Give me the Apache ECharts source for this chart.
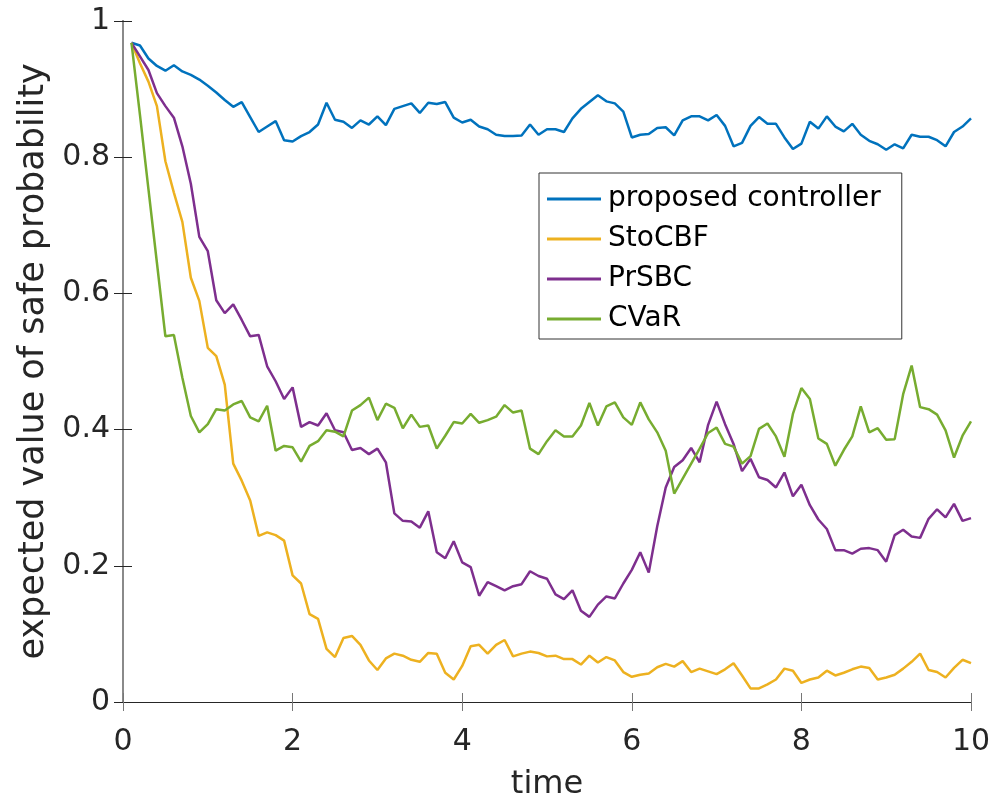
<!DOCTYPE html>
<html>
<head>
<meta charset="utf-8">
<script src="https://cdn.jsdelivr.net/npm/echarts@6/dist/echarts.min.js"></script>
<style>
  html, body { margin: 0; padding: 0; background: #fff; }
  #chart { width: 997px; height: 806px; }
</style>
</head>
<body>
<div id="chart"></div>
<script>
// sample times
const time = [
  0.1, 0.2, 0.3, 0.4, 0.5, 0.6, 0.7, 0.8, 0.9, 1.0,
  1.1, 1.2, 1.3, 1.4, 1.5, 1.6, 1.7, 1.8, 1.9, 2.0,
  2.1, 2.2, 2.3, 2.4, 2.5, 2.6, 2.7, 2.8, 2.9, 3.0,
  3.1, 3.2, 3.3, 3.4, 3.5, 3.6, 3.7, 3.8, 3.9, 4.0,
  4.1, 4.2, 4.3, 4.4, 4.5, 4.6, 4.7, 4.8, 4.9, 5.0,
  5.1, 5.2, 5.3, 5.4, 5.5, 5.6, 5.7, 5.8, 5.9, 6.0,
  6.1, 6.2, 6.3, 6.4, 6.5, 6.6, 6.7, 6.8, 6.9, 7.0,
  7.1, 7.2, 7.3, 7.4, 7.5, 7.6, 7.7, 7.8, 7.9, 8.0,
  8.1, 8.2, 8.3, 8.4, 8.5, 8.6, 8.7, 8.8, 8.9, 9.0,
  9.1, 9.2, 9.3, 9.4, 9.5, 9.6, 9.7, 9.8, 9.9, 10.0
];

const proposed = [
  0.968, 0.964, 0.945, 0.934, 0.927, 0.935, 0.926, 0.921, 0.914, 0.905,
  0.895, 0.884, 0.874, 0.881, 0.859, 0.837, 0.845, 0.853, 0.825, 0.823,
  0.831, 0.837, 0.848, 0.880, 0.855, 0.852, 0.843, 0.854, 0.848, 0.860,
  0.847, 0.871, 0.875, 0.879, 0.865, 0.880, 0.878, 0.881, 0.858, 0.851,
  0.855, 0.845, 0.841, 0.833, 0.831, 0.831, 0.832, 0.848, 0.833, 0.841,
  0.841, 0.837, 0.857, 0.871, 0.881, 0.891, 0.882, 0.879, 0.867, 0.829,
  0.833, 0.834, 0.843, 0.844, 0.832, 0.854, 0.860, 0.860, 0.854, 0.862,
  0.846, 0.816, 0.821, 0.846, 0.859, 0.849, 0.849, 0.829, 0.812, 0.820,
  0.852, 0.842, 0.860, 0.845, 0.838, 0.849, 0.833, 0.824, 0.819, 0.811,
  0.819, 0.813, 0.833, 0.830, 0.830, 0.825, 0.816, 0.837, 0.845, 0.857
];

const stocbf = [
  0.968, 0.938, 0.911, 0.875, 0.794, 0.748, 0.705, 0.623, 0.589, 0.520,
  0.508, 0.466, 0.350, 0.325, 0.296, 0.244, 0.249, 0.245, 0.237, 0.186,
  0.174, 0.129, 0.122, 0.078, 0.066, 0.094, 0.097, 0.084, 0.061, 0.047,
  0.064, 0.071, 0.068, 0.062, 0.059, 0.072, 0.071, 0.043, 0.033, 0.053,
  0.082, 0.084, 0.071, 0.084, 0.091, 0.067, 0.071, 0.074, 0.072, 0.067,
  0.068, 0.063, 0.063, 0.055, 0.068, 0.058, 0.066, 0.061, 0.044, 0.037,
  0.040, 0.042, 0.051, 0.056, 0.052, 0.060, 0.044, 0.049, 0.045, 0.041,
  0.048, 0.057, 0.039, 0.020, 0.020, 0.026, 0.033, 0.049, 0.046, 0.028,
  0.033, 0.036, 0.046, 0.039, 0.043, 0.048, 0.052, 0.050, 0.033, 0.036,
  0.040, 0.049, 0.059, 0.071, 0.047, 0.044, 0.036, 0.050, 0.062, 0.057
];

const prsbc = [
  0.968, 0.948, 0.928, 0.894, 0.875, 0.858, 0.816, 0.761, 0.683, 0.662,
  0.590, 0.571, 0.584, 0.561, 0.537, 0.539, 0.493, 0.471, 0.445, 0.462,
  0.404, 0.411, 0.406, 0.424, 0.399, 0.396, 0.370, 0.373, 0.364, 0.372,
  0.352, 0.277, 0.266, 0.265, 0.256, 0.280, 0.220, 0.211, 0.236, 0.205,
  0.198, 0.156, 0.176, 0.170, 0.164, 0.170, 0.173, 0.192, 0.185, 0.181,
  0.158, 0.151, 0.164, 0.134, 0.125, 0.143, 0.155, 0.152, 0.174, 0.194,
  0.220, 0.190, 0.258, 0.315, 0.345, 0.355, 0.373, 0.352, 0.407, 0.441,
  0.408, 0.379, 0.339, 0.357, 0.330, 0.326, 0.315, 0.337, 0.302, 0.319,
  0.289, 0.268, 0.254, 0.223, 0.223, 0.218, 0.225, 0.226, 0.223, 0.206,
  0.245, 0.253, 0.243, 0.241, 0.269, 0.283, 0.271, 0.291, 0.266, 0.270
];

const cvar = [
  0.968, 0.862, 0.753, 0.645, 0.537, 0.539, 0.476, 0.420, 0.396, 0.408,
  0.430, 0.428, 0.437, 0.442, 0.418, 0.412, 0.435, 0.369, 0.376, 0.374,
  0.353, 0.376, 0.383, 0.399, 0.397, 0.390, 0.428, 0.436, 0.447, 0.414,
  0.438, 0.432, 0.402, 0.422, 0.404, 0.406, 0.372, 0.391, 0.411, 0.409,
  0.423, 0.410, 0.414, 0.419, 0.436, 0.425, 0.428, 0.372, 0.364, 0.383,
  0.399, 0.390, 0.390, 0.406, 0.439, 0.406, 0.434, 0.440, 0.418, 0.407,
  0.440, 0.415, 0.396, 0.369, 0.306, 0.328, 0.350, 0.372, 0.395, 0.403,
  0.379, 0.375, 0.350, 0.361, 0.401, 0.409, 0.390, 0.360, 0.423, 0.461,
  0.445, 0.387, 0.379, 0.347, 0.370, 0.390, 0.434, 0.396, 0.402, 0.385,
  0.386, 0.452, 0.494, 0.433, 0.430, 0.422, 0.399, 0.359, 0.391, 0.412
];

const names = ['proposed controller', 'StoCBF', 'PrSBC', 'CVaR'];
const colors = ['#0072BD', '#EDB120', '#7E2F8E', '#77AC30'];
const values = [proposed, stocbf, prsbc, cvar];

const font = 'DejaVu Sans';
const pair = arr => arr.map((v, i) => [time[i], v]);

const chart = echarts.init(document.getElementById('chart'));

const tickStyle = (c) => ({ show: true, inside: true, length: 9, lineStyle: { color: c, width: 1 } });

chart.setOption({
  animation: false,
  backgroundColor: '#fff',
  grid: { left: 123, right: 26, top: 21, bottom: 99 },
  legend: {
    data: names,
    orient: 'vertical',
    left: 539,
    top: 173,
    padding: [12, 21, 6, 8],
    itemGap: 12,
    itemWidth: 54,
    itemHeight: 3,
    icon: 'rect',
    borderColor: '#333',
    borderWidth: 1,
    backgroundColor: '#fff',
    textStyle: { fontFamily: font, fontSize: 28, color: '#000', padding: [0, 0, 0, 2] }
  },
  xAxis: [
    {
      type: 'value', min: 0, max: 10, interval: 2,
      name: 'time', nameLocation: 'middle', nameGap: 67,
      nameTextStyle: { fontFamily: font, fontSize: 32, color: '#262626' },
      axisLine: { show: true, lineStyle: { color: '#262626', width: 1 } },
      axisTick: tickStyle('#777'),
      axisLabel: { fontFamily: font, fontSize: 30, color: '#262626', margin: 25 },
      splitLine: { show: false }
    },
    {
      type: 'value', min: 0, max: 10, interval: 2, position: 'top',
      axisLine: { show: true, lineStyle: { color: '#262626', width: 1 } },
      axisTick: tickStyle('#777'),
      axisLabel: { show: false },
      splitLine: { show: false }
    }
  ],
  yAxis: [
    {
      type: 'value', min: 0, max: 1, interval: 0.2,
      name: 'expected value of safe probability', nameLocation: 'middle', nameGap: 60,
      nameTextStyle: { fontFamily: font, fontSize: 35, color: '#262626' },
      axisLine: { show: true, lineStyle: { color: '#8a8a8a', width: 2 } },
      axisTick: tickStyle('#262626'),
      axisLabel: { fontFamily: font, fontSize: 30, color: '#262626', margin: 13 },
      splitLine: { show: false }
    },
    {
      type: 'value', min: 0, max: 1, interval: 0.2, position: 'right',
      axisLine: { show: true, lineStyle: { color: '#8a8a8a', width: 2 } },
      axisTick: tickStyle('#262626'),
      axisLabel: { show: false },
      splitLine: { show: false }
    }
  ],
  series: names.map((n, k) => ({
    name: n,
    type: 'line',
    data: pair(values[k]),
    symbol: 'none',
    color: colors[k],
    lineStyle: { color: colors[k], width: 2.5 },
    clip: true
  }))
});
</script>
</body>
</html>
